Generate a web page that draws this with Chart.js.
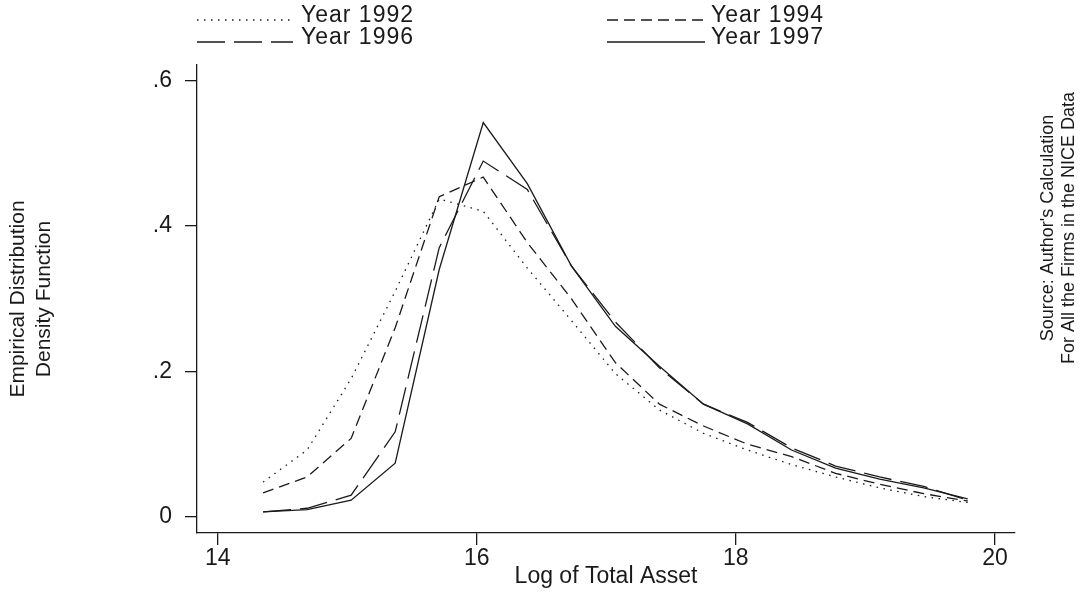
<!DOCTYPE html>
<html>
<head>
<meta charset="utf-8">
<script src="https://cdn.jsdelivr.net/npm/chart.js@4.4.1/dist/chart.umd.min.js"></script>
<style>
body{margin:0;background:#fff;}
#wrap{width:1083px;height:594px;position:relative;}
</style>
</head>
<body>
<div id="wrap"><canvas id="chart"></canvas></div>
<script>
// log of total asset (bin centres)
const logAsset = [14.35,14.69,15.03,15.37,15.71,16.05,16.39,16.73,17.07,17.41,17.75,18.09,18.43,18.77,19.11,19.45,19.79];

const year1992 = [0.048,0.092,0.190,0.310,0.437,0.420,0.342,0.270,0.197,0.147,0.115,0.092,0.072,0.055,0.040,0.028,0.020];
const year1994 = [0.033,0.055,0.108,0.260,0.440,0.467,0.377,0.300,0.212,0.155,0.125,0.100,0.083,0.060,0.045,0.032,0.022];
const year1996 = [0.007,0.012,0.030,0.117,0.370,0.489,0.450,0.345,0.268,0.205,0.155,0.130,0.095,0.070,0.055,0.042,0.023];
const year1997 = [0.007,0.010,0.023,0.074,0.340,0.542,0.458,0.345,0.262,0.207,0.155,0.128,0.092,0.067,0.052,0.040,0.025];

const seriesNames = ['Year 1992','Year 1994','Year 1996','Year 1997'];
const xTicks = [14,16,18,20];
const yTicks = [0,0.2,0.4,0.6];
const yTickLabels = ['0','.2','.4','.6'];

const FONT = '"Liberation Sans", Arial, sans-serif';
const INK = '#1a1a1a';

function pts(vals){
return vals.map((v,i)=>({x:logAsset[i],y:v}));
}

const dashes = [[1.5,5.5],[11,6],[28,9],[]];

/* legend in 2x2 grid, stata style */
const gridLegend = {
id:'gridLegend',
afterDraw(chart){
const ctx = chart.ctx;
const cols = [[197,293,301],[607,705,711]];
const rows = [16,38];
ctx.save();
ctx.font = '23px ' + FONT;
ctx.letterSpacing = '1px';
ctx.fillStyle = INK;
ctx.textBaseline = 'middle';
chart.data.datasets.forEach(function(ds,i){
let c = cols[i%2], r = rows[Math.floor(i/2)];
ctx.strokeStyle = INK;
ctx.lineWidth = 1.3;
ctx.setLineDash(ds.borderDash);
ctx.beginPath();
ctx.moveTo(c[0],r+4);
ctx.lineTo(c[1],r+4);
ctx.stroke();
ctx.setLineDash([]);
ctx.fillText(ds.label,c[2],r);
});
ctx.restore();
}
};

/* source note on right, reads bottom to top */
const sideNote = {
id:'sideNote',
afterDraw(chart){
const ctx = chart.ctx;
ctx.save();
ctx.translate(1048,228);
ctx.rotate(-Math.PI/2);
ctx.font = '18px ' + FONT;
ctx.fillStyle = INK;
ctx.textAlign = 'center';
ctx.textBaseline = 'middle';
ctx.fillText("Source: Author's Calculation",0,0);
ctx.fillText('For All the Firms in the NICE Data',0,21);
ctx.restore();
}
};

new Chart(document.getElementById('chart'),{
type:'line',
data:{
datasets:[year1992,year1994,year1996,year1997].map(function(vals,i){
return {
label:seriesNames[i],
data:pts(vals),
borderColor:INK,
borderWidth:1.3,
borderDash:dashes[i],
pointRadius:0,
tension:0,
fill:false
};
})
},
options:{
responsive:true,
maintainAspectRatio:false,
animation:false,
layout:{padding:{top:65,right:68,bottom:0,left:0}},
plugins:{legend:{display:false},tooltip:{enabled:false}},
scales:{
x:{
type:'linear',
min:13.84,
max:20.155,
afterBuildTicks:function(s){ s.ticks = xTicks.map(v=>({value:v})); },
afterFit:function(s){ s.height = 61; },
grid:{drawOnChartArea:false,drawTicks:true,tickLength:12,color:INK,lineWidth:1.3},
border:{display:true,color:INK,width:1.3},
ticks:{color:INK,font:{family:FONT,size:23},padding:0,maxRotation:0},
title:{display:true,text:'Log of Total Asset',color:INK,font:{family:FONT,size:23},padding:{top:0,bottom:4}}
},
y:{
type:'linear',
min:-0.022,
max:0.621,
afterBuildTicks:function(s){ s.ticks = yTicks.map(v=>({value:v})); },
afterFit:function(s){ s.width = 197; },
grid:{drawOnChartArea:false,drawTicks:true,tickLength:12,color:INK,lineWidth:1.3},
border:{display:true,color:INK,width:1.3},
ticks:{color:INK,font:{family:FONT,size:23},padding:13,
callback:function(v){ let k = yTicks.indexOf(v); return k>=0 ? yTickLabels[k] : ''; }},
title:{display:true,text:['Empirical Distribution','Density Function'],color:INK,font:{family:FONT,size:21},padding:{top:6,bottom:0}}
}
}
},
plugins:[gridLegend,sideNote]
});
</script>
</body>
</html>
